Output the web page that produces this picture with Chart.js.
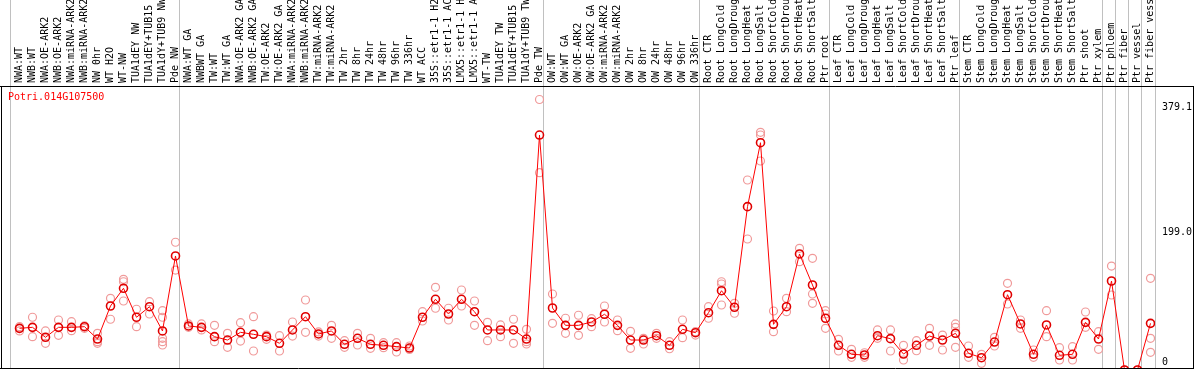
<!DOCTYPE html>
<html>
<head>
<meta charset="utf-8">
<script src="https://cdn.jsdelivr.net/npm/chart.js@4.4.1/dist/chart.umd.min.js"></script>
<style>
html, body { margin: 0; padding: 0; background: #fff; }
</style>
</head>
<body>
<canvas id="chart" width="1194" height="370"></canvas>
<script>
const geneId = "Potri.014G107500";

const samples = [
    "NWA:WT", "NWB:WT", "NWA:OE-ARK2", "NWB:OE-ARK2", "NWA:miRNA-ARK2", "NWB:miRNA-ARK2", "NW 0hr", "WT H2O", "WT-NW", "TUA1dEY NW", "TUA1dEY+TUB15 NW", "TUA1dY+TUB9 NW", "Pde NW",
    "NWA:WT GA", "NWBWT GA", "TW:WT", "TW:WT GA", "NWA:OE-ARK2 GA", "NWB:OE-ARK2 GA", "TW:OE-ARK2", "TW:OE-ARK2 GA", "NWA:miRNA-ARK2", "NWB:miRNA-ARK2", "TW:miRNA-ARK2", "TW:miRNA-ARK2",
    "TW 2hr", "TW 8hr", "TW 24hr", "TW 48hr", "TW 96hr", "TW 336hr", "WT ACC", "35S::etr1-1 H2O", "35S::etr1-1 ACC", "LMX5::etr1-1 H2O", "LMX5::etr1-1 ACC", "WT-TW", "TUA1dEY TW", "TUA1dEY+TUB15 TW", "TUA1dY+TUB9 TW", "Pde TW",
    "OW:WT", "OW:WT GA", "OW:OE-ARK2", "OW:OE-ARK2 GA", "OW:miRNA-ARK2", "OW:miRNA-ARK2", "OW 2hr", "OW 8hr", "OW 24hr", "OW 48hr", "OW 96hr", "OW 336hr",
    "Root CTR", "Root LongCold", "Root LongDrought", "Root LongHeat", "Root LongSalt", "Root ShortCold", "Root ShortDrought", "Root ShortHeat", "Root ShortSalt", "Ptr root",
    "Leaf CTR", "Leaf LongCold", "Leaf LongDrought", "Leaf LongHeat", "Leaf LongSalt", "Leaf ShortCold", "Leaf ShortDrought", "Leaf ShortHeat", "Leaf ShortSalt", "Ptr leaf",
    "Stem CTR", "Stem LongCold", "Stem LongDrought", "Stem LongHeat", "Stem LongSalt", "Stem ShortCold", "Stem ShortDrought", "Stem ShortHeat", "Stem ShortSalt", "Ptr shoot", "Ptr xylem",
    "Ptr phloem", "Ptr fiber", "Ptr vessel", "Ptr fiber vessel"
];

// first sample index of each group (last entry = end)
const groupStarts = [0, 13, 41, 53, 63, 73, 84, 85, 86, 87, 88];

const means = [
    58.4, 59.8, 45.8, 59.8, 59.8, 60.7, 43.4, 89.7, 114.5, 73.9, 88.7, 54.7, 159.8,
    61.7, 59.8, 46.7, 42.0, 52.8, 50.0, 46.7, 37.4, 56.1, 74.7, 50.5, 54.7,
    36.0, 44.4, 36.0, 34.6, 32.7, 30.8, 73.9, 99.1, 78.5, 99.1, 81.7, 56.1, 56.1, 56.1, 43.4, 329.3,
    86.9, 62.6, 62.6, 67.3, 78.1, 62.6, 42.0, 42.0, 48.1, 34.6, 57.0, 52.3,
    80.3, 111.1, 87.9, 228.9, 318.5, 64.0, 88.7, 162.6, 119.1, 72.5,
    34.6, 22.0, 21.0, 48.1, 43.9, 22.4, 34.6, 47.6, 42.0, 51.4,
    23.4, 17.2, 39.2, 105.5, 64.5, 22.0, 63.1, 20.6, 22.0, 66.8, 43.4,
    124.7, 0, 0, 65.4
];

const replicates = [
    [60.7, 54.7], [73.9, 46.7], [54.7, 37.4], [70.1, 48.6], [67.7, 55.1], [61.7, 58.4], [51.4, 37.4, 39.7], [100.5, 71.1], [127.1, 123.7, 96.7], [85.1, 60.7], [95.7, 78.5], [83.1, 73.9, 44.4, 39.7, 35.0], [179.0, 140.1],
    [59.8, 64.5], [64.5, 56.1], [62.6, 39.7], [51.4, 31.8], [66.3, 40.6], [74.7, 26.6], [49.0, 43.0], [48.1, 26.6], [67.3, 47.6], [98.1, 52.8], [53.3, 47.6], [62.6, 44.4],
    [41.1, 31.8], [51.4, 35.0], [44.4, 30.4], [38.3, 31.3], [38.3, 25.2], [33.6, 28.7], [81.7, 68.7], [115.9, 86.5], [86.5, 70.1], [112.1, 89.7], [96.7, 62.6], [66.8, 41.1], [63.1, 46.7], [71.1, 37.4], [57.0, 39.7, 36.4], [379.1, 276.5],
    [106.5, 65.4], [72.5, 51.4], [76.7, 48.6], [71.9, 60.7], [89.7, 67.3], [70.1, 55.1], [54.2, 30.4], [44.4, 36.4], [51.4, 44.4], [39.7, 29.8], [70.1, 45.3], [53.7, 49.0],
    [88.7, 72.5], [123.7, 120.5, 91.1], [93.5, 79.5], [266.3, 183.6], [333.1, 329.3, 292.9], [82.7, 53.7], [100.5, 81.7], [170.5, 151.8], [156.5, 106.5, 93.5], [83.1, 78.5, 58.4],
    [43.0, 26.6], [29.0, 17.8], [24.2, 17.8], [56.1, 44.4], [56.1, 26.6], [34.6, 14.0], [41.1, 27.0], [58.4, 34.6], [49.0, 28.0], [64.5, 59.8, 31.8],
    [33.6, 17.8], [22.0, 9.4], [45.8, 33.6], [121.5, 92.5], [70.1, 58.4], [28.0, 17.8], [83.1, 46.7], [31.3, 14.0], [32.7, 14.0], [81.3, 59.8], [53.7, 29.0],
    [145.7, 105.1], [0], [0], [128.5, 44.4, 24.8]
];

const yGridValues = [199.0];
const yLabels = ["379.1", "199.0", "0"];
const yLabelValues = [368.6, 193.4, 11.2];

const meanPoints = means.map((v, i) => ({ x: i, y: v }));
const repPoints = [];
replicates.forEach((list, i) => list.forEach(v => repPoints.push({ x: i, y: v })));

const monoFont = { family: "'DejaVu Sans Mono', monospace", size: 10 };
const xMin = -1.346, xMax = 87.346;
const labelShift = 0.9; // sample labels sit a little right of the rotated tick anchor

// frame lines and gene name
const framePlugin = {
    id: "frame",
    afterDraw(chart) {
        const ctx = chart.ctx;
        const area = chart.chartArea;
        ctx.save();
        ctx.strokeStyle = "#000";
        ctx.lineWidth = 1;
        ctx.beginPath();
        ctx.moveTo(0, area.top + 0.5);
        ctx.lineTo(chart.width, area.top + 0.5);
        ctx.moveTo(0, area.bottom + 0.5);
        ctx.lineTo(chart.width, area.bottom + 0.5);
        ctx.moveTo(area.left - 0.5, area.top);
        ctx.lineTo(area.left - 0.5, area.bottom);
        ctx.moveTo(chart.width - 0.5, area.top);
        ctx.lineTo(chart.width - 0.5, area.bottom);
        ctx.stroke();
        ctx.fillStyle = "#ff0000";
        ctx.font = "10px 'DejaVu Sans Mono', monospace";
        ctx.textBaseline = "middle";
        ctx.fillText(geneId, 8, area.top + 11);
        ctx.restore();
    }
};

new Chart(document.getElementById("chart").getContext("2d"), {
    type: "line",
    data: {
        datasets: [
            {
                label: geneId,
                data: meanPoints,
                borderColor: "#ff0000",
                borderWidth: 1,
                pointRadius: 4,
                pointBorderWidth: 1.6,
                pointBorderColor: "#e00000",
                pointBackgroundColor: "rgba(0,0,0,0)",
                tension: 0,
                order: 0,
            },
            {
                label: "replicates",
                data: repPoints,
                showLine: false,
                pointRadius: 4,
                pointBorderWidth: 1.2,
                pointBorderColor: "#f09a9a",
                pointBackgroundColor: "rgba(0,0,0,0)",
                order: 1,
            },
        ],
    },
    options: {
        responsive: false,
        animation: false,
        devicePixelRatio: 1,
        events: [],
        layout: { autoPadding: false, padding: { left: 2, right: 1, top: 0, bottom: 2 } },
        plugins: {
            legend: { display: false },
            tooltip: { enabled: false },
        },
        scales: {
            x: {
                type: "linear",
                position: "top",
                weight: 0,
                min: xMin,
                max: xMax,
                border: { display: false },
                grid: { color: "#c0c0c0", lineWidth: 1, drawTicks: true, tickLength: 86 },
                ticks: { display: false },
                afterBuildTicks: ax => { ax.ticks = groupStarts.map(s => ({ value: s - 0.654 })); },
                afterFit: ax => { ax.height = 0; ax.paddingLeft = 0; ax.paddingRight = 0; },
            },
            xl: {
                type: "linear",
                position: "top",
                weight: 1,
                min: xMin - labelShift,
                max: xMax - labelShift,
                border: { display: false },
                grid: { display: false, drawTicks: false },
                ticks: {
                    autoSkip: false,
                    minRotation: 90,
                    maxRotation: 90,
                    padding: 3,
                    color: "#000",
                    font: monoFont,
                    callback: value => samples[value],
                },
                afterBuildTicks: ax => { ax.ticks = samples.map((_, i) => ({ value: i })); },
                afterFit: ax => { ax.height = 86; ax.paddingLeft = 0; ax.paddingRight = 0; },
            },
            y: {
                type: "linear",
                position: "right",
                min: 2.8,
                max: 398.0,
                border: { display: false },
                grid: {
                    drawTicks: false,
                    lineWidth: 1,
                    color: ctx => (ctx.tick && ctx.tick.grid ? "#c0c0c0" : "rgba(0,0,0,0)"),
                },
                ticks: {
                    padding: 7,
                    color: "#000",
                    font: monoFont,
                    callback: (value, index, ticks) => (ticks[index].grid ? null : ticks[index].text),
                },
                afterBuildTicks: ax => {
                    const t = [{ value: yGridValues[0], grid: true }];
                    yLabels.forEach((s, i) => t.push({ value: yLabelValues[i], text: s }));
                    ax.ticks = t;
                },
                afterFit: ax => { ax.width = 38; ax.paddingTop = 0; ax.paddingBottom = 0; },
            },
        },
    },
    plugins: [framePlugin],
});
</script>
</body>
</html>
